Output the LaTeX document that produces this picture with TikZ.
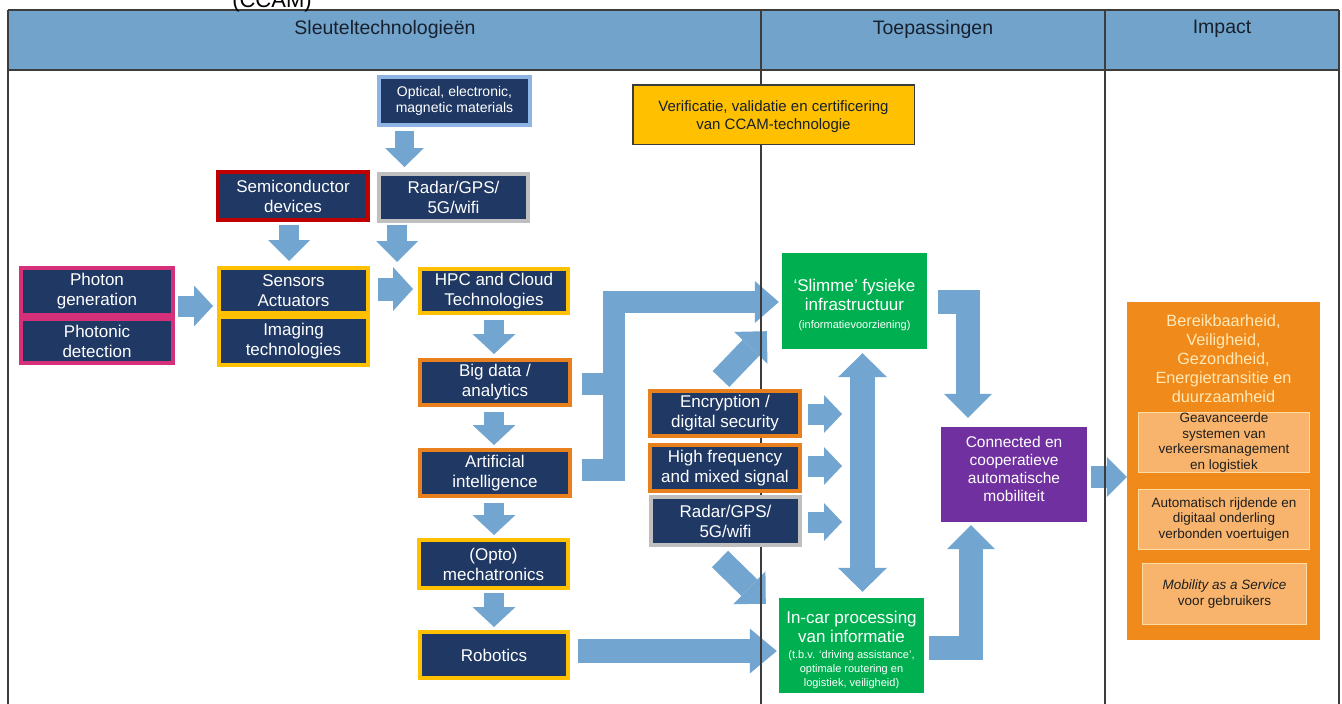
\documentclass[tikz,border=0pt]{standalone}
\usepackage{fontspec}
\setmainfont{Liberation Sans}
\usetikzlibrary{arrows.meta,calc}

\definecolor{navyc}{HTML}{1F3864}
\definecolor{headc}{RGB}{114,164,203}
\definecolor{arrowc}{RGB}{114,165,207}
\definecolor{gridc}{HTML}{3C3C3C}
\definecolor{headtext}{HTML}{17202E}
\definecolor{bdblue}{HTML}{8EB4E3}
\definecolor{bdgray}{HTML}{BFBFBF}
\definecolor{bdred}{HTML}{C00000}
\definecolor{bdmagenta}{HTML}{D6307A}
\definecolor{bdgold}{HTML}{FFC000}
\definecolor{bdorange}{HTML}{E8801E}
\definecolor{verifc}{HTML}{FFC000}
\definecolor{greenc}{HTML}{00B050}
\definecolor{purplec}{HTML}{7030A0}
\definecolor{impactc}{HTML}{F08A1A}
\definecolor{impactin}{HTML}{F8B46C}
\definecolor{impactbd}{HTML}{FDDCA0}
\definecolor{impacttext}{HTML}{FFE9B8}

\newcommand\fsz[2]{\fontsize{#1}{#2}\selectfont}

\pgfdeclarelayer{arr}
\pgfdeclarelayer{grid}
\pgfsetlayers{arr,grid,main}

\begin{document}
\begin{tikzpicture}[x=1pt,y=-1pt,
  navybox/.style={draw=#1, line width=4pt, fill=navyc, text=white,
    font=\fsz{17}{20}, align=center, inner sep=0pt},
  plainbox/.style={fill=#1, inner sep=0pt},
  boxtext/.style={text=white, align=center, inner sep=0pt},
  innerbox/.style={draw=impactbd, line width=1.2pt, fill=impactin,
    text=black!88, align=center, inner sep=0pt, font=\fsz{13.5}{15.5}},
  headlabel/.style={text=headtext, font=\fsz{19.5}{22}},
  gridline/.style={draw=gridc, line width=1.1pt},
  blk/.style n args={3}{draw=arrowc, line width=#1, line join=miter,
    -{Triangle[width=#2,length=#3,line width=0pt]}},
  blkdbl/.style n args={3}{draw=arrowc, line width=#1,
    {Triangle[width=#2,length=#3,line width=0pt]}-{Triangle[width=#2,length=#3,line width=0pt]}},
  blkbody/.style={draw=arrowc, line width=#1, line join=miter},
]
\useasboundingbox (0,0) rectangle (1342,704);

% title line running above the table
\node[font=\fsz{22}{26}, anchor=base, text=black] (ccam) at (272,7) {(CCAM)};

% ---------- table frame and header ----------
\begin{pgfonlayer}{grid}
  \fill[headc] (8,10) rectangle (1339,70);
  \draw[gridline] (8,10) -- (1339,10);
  \draw[gridline] (8,70) -- (1339,70);
  \draw[gridline] (8,10) -- (8,710);
  \draw[gridline] (761,10) -- (761,710);
  \draw[gridline] (1105,10) -- (1105,710);
  \draw[gridline] (1339,10) -- (1339,710);
\end{pgfonlayer}
\node[headlabel] (h1) at (385,29) {Sleuteltechnologieën};
\node[headlabel] (h2) at (933,29) {Toepassingen};
\node[headlabel] (h3) at (1222,29) {Impact};

% ---------- key technologies ----------
\node[navybox=bdblue, font=\fsz{14}{16}, minimum width=151, minimum height=48]
  (opt) at (454.5,101) {Optical, electronic,\\magnetic materials};
\node[navybox=bdgray, minimum width=149, minimum height=47]
  (radar1) at (453.5,197.5) {Radar/GPS/\\5G/wifi};
\node[navybox=bdred, minimum width=150, minimum height=48]
  (semi) at (293,196) {Semiconductor\\devices};
\node[navybox=bdmagenta, minimum width=152, minimum height=47]
  (photon) at (97,291.5) {Photon\\generation};
\node[navybox=bdmagenta, minimum width=152, minimum height=44]
  (photonic) at (97,341) {Photonic\\detection};
\node[navybox=bdgold, minimum width=149, minimum height=45]
  (sens) at (293.5,290.5) {Sensors\\Actuators};
\node[navybox=bdgold, minimum width=149, minimum height=48]
  (imaging) at (293.5,341) {Imaging\\technologies};
\node[navybox=bdgold, minimum width=148, minimum height=44]
  (hpc) at (494,291) {HPC and Cloud\\Technologies};
\node[navybox=bdorange, minimum width=150, minimum height=45]
  (big) at (495,382.5) {Big data /\\analytics};
\node[navybox=bdorange, minimum width=150, minimum height=46]
  (ai) at (495,473) {Artificial\\intelligence};
\node[navybox=bdgold, minimum width=149, minimum height=48]
  (opto) at (493.5,564) {(Opto)\\mechatronics};
\node[navybox=bdgold, minimum width=148, minimum height=46]
  (robot) at (494,655) {Robotics};
\node[navybox=bdorange, minimum width=150, minimum height=45]
  (enc) at (725,413.5) {Encryption /\\digital security};
\node[navybox=bdorange, minimum width=150, minimum height=46]
  (hf) at (725,468) {High frequency\\and mixed signal};
\node[navybox=bdgray, minimum width=149, minimum height=48]
  (radar2) at (725.5,521) {Radar/GPS/\\5G/wifi};

% ---------- applications ----------
\node[draw=gridc, line width=1.5pt, fill=verifc, inner sep=0pt,
  minimum width=281.5, minimum height=59.5] (verif) at (773.5,114.5) {};
\node[text=headtext, align=center, inner sep=0pt, font=\fsz{15}{18}]
  (veriftxt) at (773.5,116.5) {Verificatie, validatie en certificering\\van CCAM-technologie};

\node[plainbox=greenc, minimum width=145, minimum height=96] (slimme) at (854.5,301) {};
\node[boxtext, font=\fsz{17}{19}] (slimmetxt) at (854.5,305)
  {‘Slimme’ fysieke\\infrastructuur\\[-1pt]{\fsz{11}{13}(informatievoorziening)}};

\node[plainbox=greenc, minimum width=145, minimum height=95] (incar) at (851.5,645.5) {};
\node[boxtext, font=\fsz{17}{19}] (incartxt) at (851.5,650)
  {In-car processing\\van informatie\\[-3pt]{\fsz{11}{13}(t.b.v. ‘driving assistance’,}\\[-5pt]
   {\fsz{11}{13}optimale routering en}\\[-5pt]{\fsz{11}{13}logistiek, veiligheid)}};

\node[plainbox=purplec, minimum width=146, minimum height=95] (conn) at (1014,474.5) {};
\node[boxtext, font=\fsz{15.5}{17.7}] (conntxt) at (1014,469)
  {Connected en\\cooperatieve\\automatische\\mobiliteit};

% ---------- impact ----------
\node[plainbox=impactc, minimum width=193, minimum height=338] (impact) at (1223.5,471) {};
\node[text=impacttext, align=center, font=\fsz{16.3}{19}, inner sep=0pt]
  (goals) at (1223.5,358.5)
  {Bereikbaarheid,\\Veiligheid,\\Gezondheid,\\Energietransitie en\\duurzaamheid};
\node[innerbox, minimum width=171, minimum height=60] (ib1) at (1224,442.5)
  {Geavanceerde\\systemen van\\verkeersmanagement\\en logistiek};
\node[innerbox, minimum width=171, minimum height=60] (ib2) at (1224,519.5)
  {Automatisch rijdende en\\digitaal onderling\\verbonden voertuigen};
\node[innerbox, minimum width=164, minimum height=61] (ib3) at (1224.5,594)
  {\textit{Mobility as a Service}\\voor gebruikers};

% ---------- block arrows ----------
\coordinate (jn) at (614,302);
\begin{pgfonlayer}{arr}
  \draw[blk={19pt}{39pt}{19pt}] ($(opt.south)+(-50,4)$) -- ($(radar1.north)+(-49,-5)$);
  \draw[blk={20pt}{42pt}{21pt}] ($(semi.south)+(-4,3)$) -- ($(sens.north)+(-4.5,-5)$);
  \draw[blk={20pt}{42pt}{21pt}] ($(radar1.south)+(-56.5,2)$) -- ($(hpc.north)+(-97,-5)$);
  \draw[blk={21pt}{41pt}{19pt}] ($(photon.south east)+(3,-11)$) -- ($(sens.south west)+(-4,-9)$);
  \draw[blk={23pt}{44pt}{20pt}] ($(sens.east)+(8,-1.5)$) -- ($(hpc.west)+(-5,-2)$);
  \draw[blk={20pt}{43pt}{20pt}] ($(hpc.south)+(0,5)$) -- ($(big.north)+(-1,-4)$);
  \draw[blk={20pt}{43pt}{20pt}] ($(big.south)+(-1,5)$) -- ($(ai.north)+(-1,-3)$);
  \draw[blk={20pt}{43pt}{20pt}] ($(ai.south)+(-1,5)$) -- ($(opto.north)+(0.5,-3)$);
  \draw[blk={20pt}{43pt}{20pt}] ($(opto.south)+(0.5,3)$) -- ($(robot.north)+(0,-3)$);
  \draw[blk={24pt}{45pt}{27pt}] ($(robot.east)+(8,-4)$) -- ($(incar.west)+(-2,5.5)$);
  % analytics and AI merge into one arrow towards the smart infrastructure
  \draw[blk={22pt}{42pt}{24pt}] ($(big.east)+(10,1.5)$) -| (jn) -- ($(slimme.west)+(-3,1)$);
  \draw[blkbody=22pt] ($(ai.east)+(10,-3)$) -| (jn);
  \draw[blk={23pt}{46pt}{23pt}] ($(enc.north)+(-4,-10)$) -- ($(slimme.south west)+(-15,-18)$);
  \draw[blk={21pt}{38pt}{18pt}] ($(enc.east)+(6,0.5)$) -- ($(enc.east)+(40,0.5)$);
  \draw[blk={21pt}{38pt}{18pt}] ($(hf.east)+(6,-2)$) -- ($(hf.east)+(40,-2)$);
  \draw[blk={21pt}{38pt}{18pt}] ($(radar2.east)+(6,1)$) -- ($(radar2.east)+(40,1)$);
  \draw[blkdbl={25pt}{49pt}{24pt}] ($(slimme.south)+(8,4)$) -- ($(incar.north)+(11,-6)$);
  \draw[blk={23pt}{46pt}{23pt}] ($(radar2.south)+(-5.5,12)$) -- ($(incar.north west)+(-13,6)$);
  \draw[blk={24pt}{48pt}{24pt}] ($(slimme.east)+(11,1)$) -| ($(conn.north)+(-46,-9)$);
  \draw[blk={24pt}{48pt}{24pt}] ($(incar.east)+(5,2.5)$) -| ($(conn.south)+(-43,3)$);
  \draw[blk={22pt}{40pt}{20pt}] ($(conn.east)+(4,2.5)$) -- ($(impact.west)+(0,6)$);
\end{pgfonlayer}
\end{tikzpicture}
\end{document}
